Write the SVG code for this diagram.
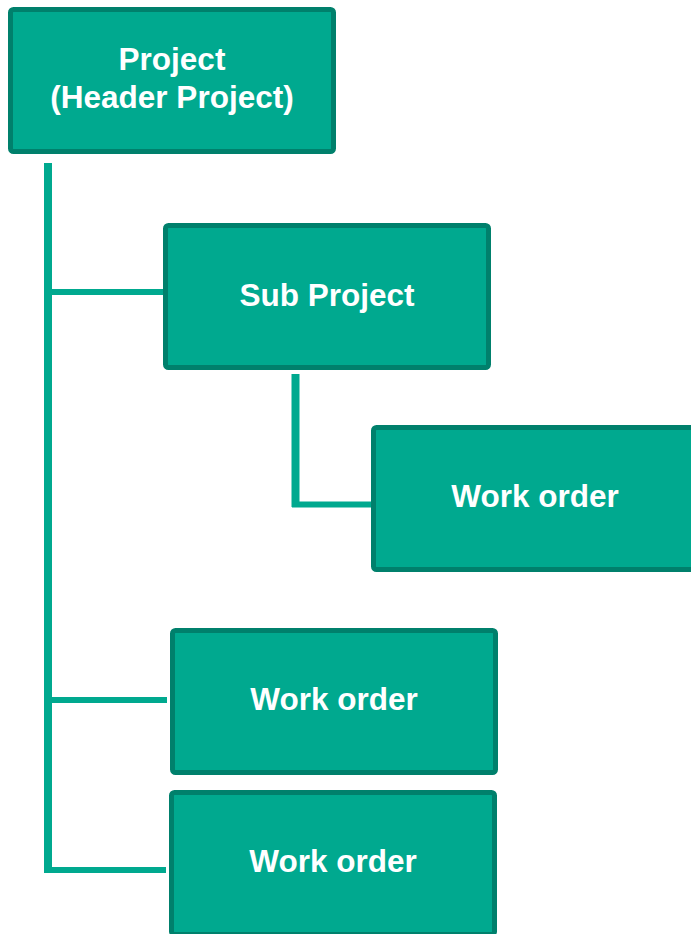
<svg xmlns="http://www.w3.org/2000/svg" width="691" height="934" viewBox="0 0 691 934">
<style>
.box{fill:#00A98F;stroke:#00806C;stroke-width:5}
.lbl{fill:#ffffff;font-family:"Liberation Sans",Arial,sans-serif;font-weight:bold;font-size:31.5px;text-anchor:middle}
.conn{stroke:#00A98F;fill:none}
</style>
<rect width="691" height="934" fill="#ffffff"/>
<g id="connectors">
<line class="conn" x1="48" y1="163" x2="48" y2="873" stroke-width="8"/>
<line class="conn" x1="48" y1="292" x2="165" y2="292" stroke-width="6"/>
<line class="conn" x1="48" y1="700" x2="167" y2="700" stroke-width="6"/>
<line class="conn" x1="48" y1="870" x2="166" y2="870" stroke-width="6"/>
<line class="conn" x1="295.5" y1="374" x2="295.5" y2="507" stroke-width="8"/>
<line class="conn" x1="292" y1="504.5" x2="374" y2="504.5" stroke-width="6"/>
</g>
<g id="project">
<rect class="box" x="10.5" y="9.5" width="323" height="142" rx="3"/>
<text class="lbl" x="172" y="70">Project</text>
<text class="lbl" x="172" y="108">(Header Project)</text>
</g>
<g id="subproject">
<rect class="box" x="165.5" y="225.5" width="323" height="142" rx="3"/>
<text class="lbl" x="327" y="306">Sub Project</text>
</g>
<g id="workorder1">
<rect class="box" x="373.5" y="427.5" width="323" height="142" rx="3"/>
<text class="lbl" x="535" y="507">Work order</text>
</g>
<g id="workorder2">
<rect class="box" x="172.5" y="630.5" width="323" height="142" rx="3"/>
<text class="lbl" x="334" y="710">Work order</text>
</g>
<g id="workorder3">
<rect class="box" x="171.5" y="792.5" width="323" height="142" rx="3"/>
<text class="lbl" x="333" y="872">Work order</text>
</g>
</svg>
